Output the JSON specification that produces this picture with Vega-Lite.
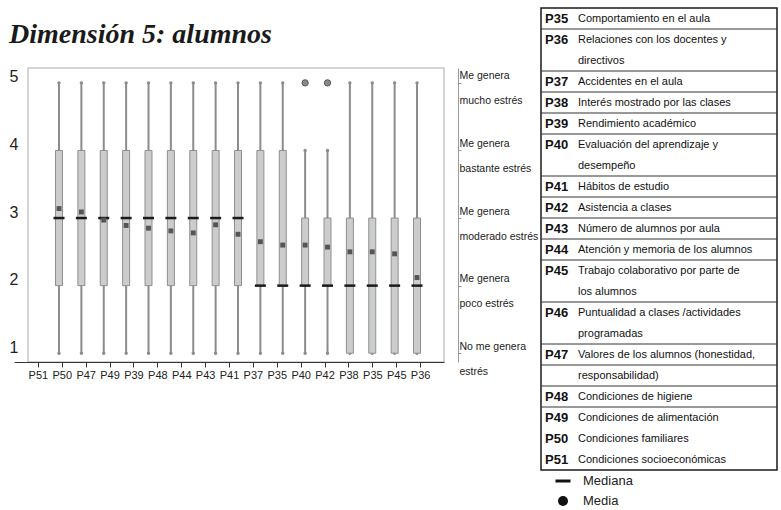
{
  "$schema": "https://vega.github.io/schema/vega-lite/v6.json",
  "background": "white",
  "padding": {"left": 8, "top": 7, "right": 0, "bottom": 0},
  "spacing": 0,
  "datasets": {
    "titulo": [{"texto": "Dimensión 5: alumnos"}],
    "cajas": [
      {"pregunta": "P51", "min": 1, "q1": 2, "mediana": 3, "q3": 4, "max": 5, "media": 3.14},
      {"pregunta": "P50", "min": 1, "q1": 2, "mediana": 3, "q3": 4, "max": 5, "media": 3.09},
      {"pregunta": "P47", "min": 1, "q1": 2, "mediana": 3, "q3": 4, "max": 5, "media": 2.97},
      {"pregunta": "P49", "min": 1, "q1": 2, "mediana": 3, "q3": 4, "max": 5, "media": 2.89},
      {"pregunta": "P39", "min": 1, "q1": 2, "mediana": 3, "q3": 4, "max": 5, "media": 2.85},
      {"pregunta": "P48", "min": 1, "q1": 2, "mediana": 3, "q3": 4, "max": 5, "media": 2.81},
      {"pregunta": "P44", "min": 1, "q1": 2, "mediana": 3, "q3": 4, "max": 5, "media": 2.78},
      {"pregunta": "P43", "min": 1, "q1": 2, "mediana": 3, "q3": 4, "max": 5, "media": 2.90},
      {"pregunta": "P41", "min": 1, "q1": 2, "mediana": 3, "q3": 4, "max": 5, "media": 2.76},
      {"pregunta": "P37", "min": 1, "q1": 2, "mediana": 2, "q3": 4, "max": 5, "media": 2.65},
      {"pregunta": "P35a", "min": 1, "q1": 2, "mediana": 2, "q3": 4, "max": 5, "media": 2.60},
      {"pregunta": "P40", "min": 1, "q1": 2, "mediana": 2, "q3": 3, "max": 4, "media": 2.60},
      {"pregunta": "P42", "min": 1, "q1": 2, "mediana": 2, "q3": 3, "max": 4, "media": 2.57},
      {"pregunta": "P38", "min": 1, "q1": 1, "mediana": 2, "q3": 3, "max": 5, "media": 2.50},
      {"pregunta": "P35b", "min": 1, "q1": 1, "mediana": 2, "q3": 3, "max": 5, "media": 2.50},
      {"pregunta": "P45", "min": 1, "q1": 1, "mediana": 2, "q3": 3, "max": 5, "media": 2.47},
      {"pregunta": "P36", "min": 1, "q1": 1, "mediana": 2, "q3": 3, "max": 5, "media": 2.12}
    ],
    "atipicos": [
      {"pregunta": "P40", "valor": 5},
      {"pregunta": "P42", "valor": 5}
    ],
    "tabla": [
      {"linea": 0, "codigo": "P35", "texto": "Comportamiento en el aula"},
      {"linea": 1, "codigo": "P36", "texto": "Relaciones con los docentes y"},
      {"linea": 2, "codigo": "", "texto": "directivos"},
      {"linea": 3, "codigo": "P37", "texto": "Accidentes en el aula"},
      {"linea": 4, "codigo": "P38", "texto": "Interés mostrado por las clases"},
      {"linea": 5, "codigo": "P39", "texto": "Rendimiento académico"},
      {"linea": 6, "codigo": "P40", "texto": "Evaluación del aprendizaje y"},
      {"linea": 7, "codigo": "", "texto": "desempeño"},
      {"linea": 8, "codigo": "P41", "texto": "Hábitos de estudio"},
      {"linea": 9, "codigo": "P42", "texto": "Asistencia a clases"},
      {"linea": 10, "codigo": "P43", "texto": "Número de alumnos por aula"},
      {"linea": 11, "codigo": "P44", "texto": "Atención y memoria de los alumnos"},
      {"linea": 12, "codigo": "P45", "texto": "Trabajo colaborativo por parte de"},
      {"linea": 13, "codigo": "", "texto": "los alumnos"},
      {"linea": 14, "codigo": "P46", "texto": "Puntualidad a clases /actividades"},
      {"linea": 15, "codigo": "", "texto": "programadas"},
      {"linea": 16, "codigo": "P47", "texto": "Valores de los alumnos (honestidad,"},
      {"linea": 17, "codigo": "", "texto": "responsabilidad)"},
      {"linea": 18, "codigo": "P48", "texto": "Condiciones de higiene"},
      {"linea": 19, "codigo": "P49", "texto": "Condiciones de alimentación"},
      {"linea": 20, "codigo": "P50", "texto": "Condiciones familiares"},
      {"linea": 21, "codigo": "P51", "texto": "Condiciones socioeconómicas"}
    ],
    "separadores": [
      {"linea": 1}, {"linea": 3}, {"linea": 4}, {"linea": 5}, {"linea": 6},
      {"linea": 8}, {"linea": 9}, {"linea": 10}, {"linea": 11}, {"linea": 12},
      {"linea": 14}, {"linea": 16}, {"linea": 17}, {"linea": 18}, {"linea": 19}
    ],
    "leyenda": [
      {"etiqueta": "Mediana", "simbolo": "mediana"},
      {"etiqueta": "Media", "simbolo": "media"}
    ]
  },
  "hconcat": [
    {
      "spacing": 5,
      "vconcat": [
        {
          "width": 416,
          "height": 54,
          "data": {"name": "titulo"},
          "mark": {"type": "text", "align": "left", "baseline": "middle", "dx": -19,
            "font": "Liberation Serif", "fontSize": 28, "fontStyle": "italic", "fontWeight": "bold", "color": "#1a1a1a"},
          "encoding": {
            "x": {"datum": 0, "type": "quantitative", "scale": {"domain": [0, 1]}, "axis": null},
            "text": {"field": "texto"}
          }
        },
        {
          "width": 416,
          "height": 294,
          "view": {"stroke": "#c8c8c8", "strokeWidth": 1.5, "fill": "white"},
          "layer": [
            {
              "layer": [
                {
                  "data": {"name": "cajas"},
                  "mark": {"type": "rule", "color": "#8c8c8c", "strokeWidth": 2},
                  "encoding": {
                    "x": {"field": "pregunta", "type": "nominal", "sort": null,
                      "scale": {"type": "point", "domain": ["P51","P50","P47","P49","P39","P48","P44","P43","P41","P37","P35a","P40","P42","P38","P35b","P45","P36"], "range": [31, 389], "padding": 0},
                      "axis": null},
                    "y": {"field": "min", "type": "quantitative", "title": null,
                      "scale": {"domain": [0.87, 5.22], "nice": false, "zero": false},
                      "axis": {"orient": "left", "values": [1, 2, 3, 4, 5], "format": "d", "domain": false, "ticks": false, "grid": false,
                        "labelFont": "Liberation Sans", "labelFontSize": 16, "labelColor": "#222222",
                        "labelPadding": 10, "labelOffset": -6, "labelOverlap": false, "title": null}},
                    "y2": {"field": "max"}
                  }
                },
                {
                  "data": {"name": "cajas"},
                  "mark": {"type": "point", "filled": true, "color": "#8c8c8c", "size": 12, "opacity": 1},
                  "encoding": {
                    "x": {"field": "pregunta", "type": "nominal", "sort": null},
                    "y": {"field": "min", "type": "quantitative", "title": null}
                  }
                },
                {
                  "data": {"name": "cajas"},
                  "mark": {"type": "point", "filled": true, "color": "#8c8c8c", "size": 12, "opacity": 1},
                  "encoding": {
                    "x": {"field": "pregunta", "type": "nominal", "sort": null},
                    "y": {"field": "max", "type": "quantitative", "title": null}
                  }
                },
                {
                  "data": {"name": "cajas"},
                  "mark": {"type": "bar", "size": 7, "fill": "#cbcccd", "stroke": "#8f8f8f", "strokeWidth": 1},
                  "encoding": {
                    "x": {"field": "pregunta", "type": "nominal", "sort": null},
                    "y": {"field": "q1", "type": "quantitative", "title": null},
                    "y2": {"field": "q3"}
                  }
                },
                {
                  "data": {"name": "cajas"},
                  "mark": {"type": "tick", "orient": "horizontal", "color": "#1a1a1a", "size": 11, "thickness": 2.5, "opacity": 1},
                  "encoding": {
                    "x": {"field": "pregunta", "type": "nominal", "sort": null},
                    "y": {"field": "mediana", "type": "quantitative", "title": null}
                  }
                },
                {
                  "data": {"name": "cajas"},
                  "mark": {"type": "point", "shape": "square", "filled": true, "color": "#555555", "size": 24, "opacity": 1},
                  "encoding": {
                    "x": {"field": "pregunta", "type": "nominal", "sort": null},
                    "y": {"field": "media", "type": "quantitative", "title": null}
                  }
                },
                {
                  "data": {"name": "atipicos"},
                  "mark": {"type": "point", "shape": "circle", "filled": true, "fill": "#8a8a8a", "stroke": "#555555", "strokeWidth": 1, "size": 40, "opacity": 1},
                  "encoding": {
                    "x": {"field": "pregunta", "type": "nominal", "sort": null},
                    "y": {"field": "valor", "type": "quantitative", "title": null}
                  }
                }
              ]
            },
            {
              "data": {"name": "cajas"},
              "mark": {"type": "point", "opacity": 0},
              "encoding": {
                "x": {"field": "pregunta", "type": "nominal", "sort": null,
                  "scale": {"type": "point", "domain": ["P51","P50","P47","P49","P39","P48","P44","P43","P41","P37","P35a","P40","P42","P38","P35b","P45","P36"], "range": [-14, 416], "padding": 1},
                  "axis": {"orient": "bottom", "title": null, "labelExpr": "slice(datum.label, 0, 3)", "labelAngle": 0,
                    "domainColor": "#333333", "domainWidth": 1.2, "tickColor": "#333333", "tickSize": 5,
                    "labelFont": "Liberation Sans", "labelFontSize": 11, "labelColor": "#222222", "labelPadding": 2,
                    "labelOverlap": false, "grid": false}}
              }
            },
            {
              "data": {"name": "cajas"},
              "mark": {"type": "tick", "opacity": 0},
              "encoding": {
                "y": {"field": "mediana", "type": "quantitative", "title": null,
                  "scale": {"domain": [0.87, 5.22], "nice": false, "zero": false},
                  "axis": {"orient": "right", "values": [1, 2, 3, 4, 5], "offset": 14, "title": null, "grid": false,
                    "domainColor": "#9a9a9a", "tickColor": "#9a9a9a", "tickSize": 3,
                    "labelExpr": "datum.value == 5 ? ['Me genera', 'mucho estrés'] : datum.value == 4 ? ['Me genera', 'bastante estrés'] : datum.value == 3 ? ['Me genera', 'moderado estrés'] : datum.value == 2 ? ['Me genera', 'poco estrés'] : ['No me genera', 'estrés']",
                    "labelFont": "Liberation Sans", "labelFontSize": 10.5, "labelColor": "#222222", "labelLineHeight": 25,
                    "labelBaseline": "middle", "labelOffset": -7, "labelAlign": "left", "labelPadding": -2,
                    "labelOverlap": false, "labelBound": false}}
              }
            }
          ],
          "resolve": {"scale": {"x": "independent"}, "axis": {"x": "independent", "y": "independent"}}
        }
      ]
    },
    {
      "spacing": 0,
      "vconcat": [
        {
          "width": 236,
          "height": 462,
          "view": {"stroke": "#1a1a1a", "strokeWidth": 1.5},
          "layer": [
            {
              "data": {"name": "separadores"},
              "mark": {"type": "rule", "color": "#333333", "strokeWidth": 1},
              "encoding": {
                "y": {"field": "linea", "type": "ordinal", "bandPosition": 0,
                  "scale": {"type": "band", "domain": [0,1,2,3,4,5,6,7,8,9,10,11,12,13,14,15,16,17,18,19,20,21], "paddingInner": 0, "paddingOuter": 0},
                  "axis": null}
              }
            },
            {
              "data": {"name": "tabla"},
              "transform": [{"filter": "datum.codigo != ''"}],
              "mark": {"type": "text", "align": "left", "baseline": "middle", "dx": 4, "font": "Liberation Sans", "fontWeight": "bold", "fontSize": 13, "color": "#111111"},
              "encoding": {
                "x": {"datum": 0, "type": "quantitative", "scale": {"domain": [0, 1]}, "axis": null},
                "y": {"field": "linea", "type": "ordinal"},
                "text": {"field": "codigo"}
              }
            },
            {
              "data": {"name": "tabla"},
              "mark": {"type": "text", "align": "left", "baseline": "middle", "dx": 37, "font": "Liberation Sans", "fontSize": 11, "color": "#111111"},
              "encoding": {
                "x": {"datum": 0, "type": "quantitative"},
                "y": {"field": "linea", "type": "ordinal"},
                "text": {"field": "texto"}
              }
            }
          ]
        },
        {
          "width": 236,
          "height": 40,
          "view": {"stroke": null},
          "data": {"name": "leyenda"},
          "layer": [
            {
              "mark": {"type": "point", "filled": true, "color": "#111111", "size": 100, "opacity": 1},
              "encoding": {
                "x": {"datum": 0, "type": "quantitative", "scale": {"domain": [0, 1]}, "axis": null},
                "xOffset": {"value": 22},
                "y": {"field": "etiqueta", "type": "nominal", "sort": null,
                  "scale": {"domain": ["Mediana", "Media"], "paddingInner": 0, "paddingOuter": 0}, "axis": null},
                "shape": {"field": "simbolo", "type": "nominal",
                  "scale": {"domain": ["mediana", "media"], "range": ["M-1.5,-0.3L1.5,-0.3L1.5,0.3L-1.5,0.3Z", "circle"]},
                  "legend": null}
              }
            },
            {
              "mark": {"type": "text", "align": "left", "baseline": "middle", "dx": 42, "font": "Liberation Sans", "fontSize": 13, "color": "#222222"},
              "encoding": {
                "x": {"datum": 0, "type": "quantitative"},
                "y": {"field": "etiqueta", "type": "nominal", "sort": null},
                "text": {"field": "etiqueta"}
              }
            }
          ]
        }
      ]
    }
  ],
  "config": {
    "view": {"stroke": null},
    "font": "Liberation Sans"
  }
}
